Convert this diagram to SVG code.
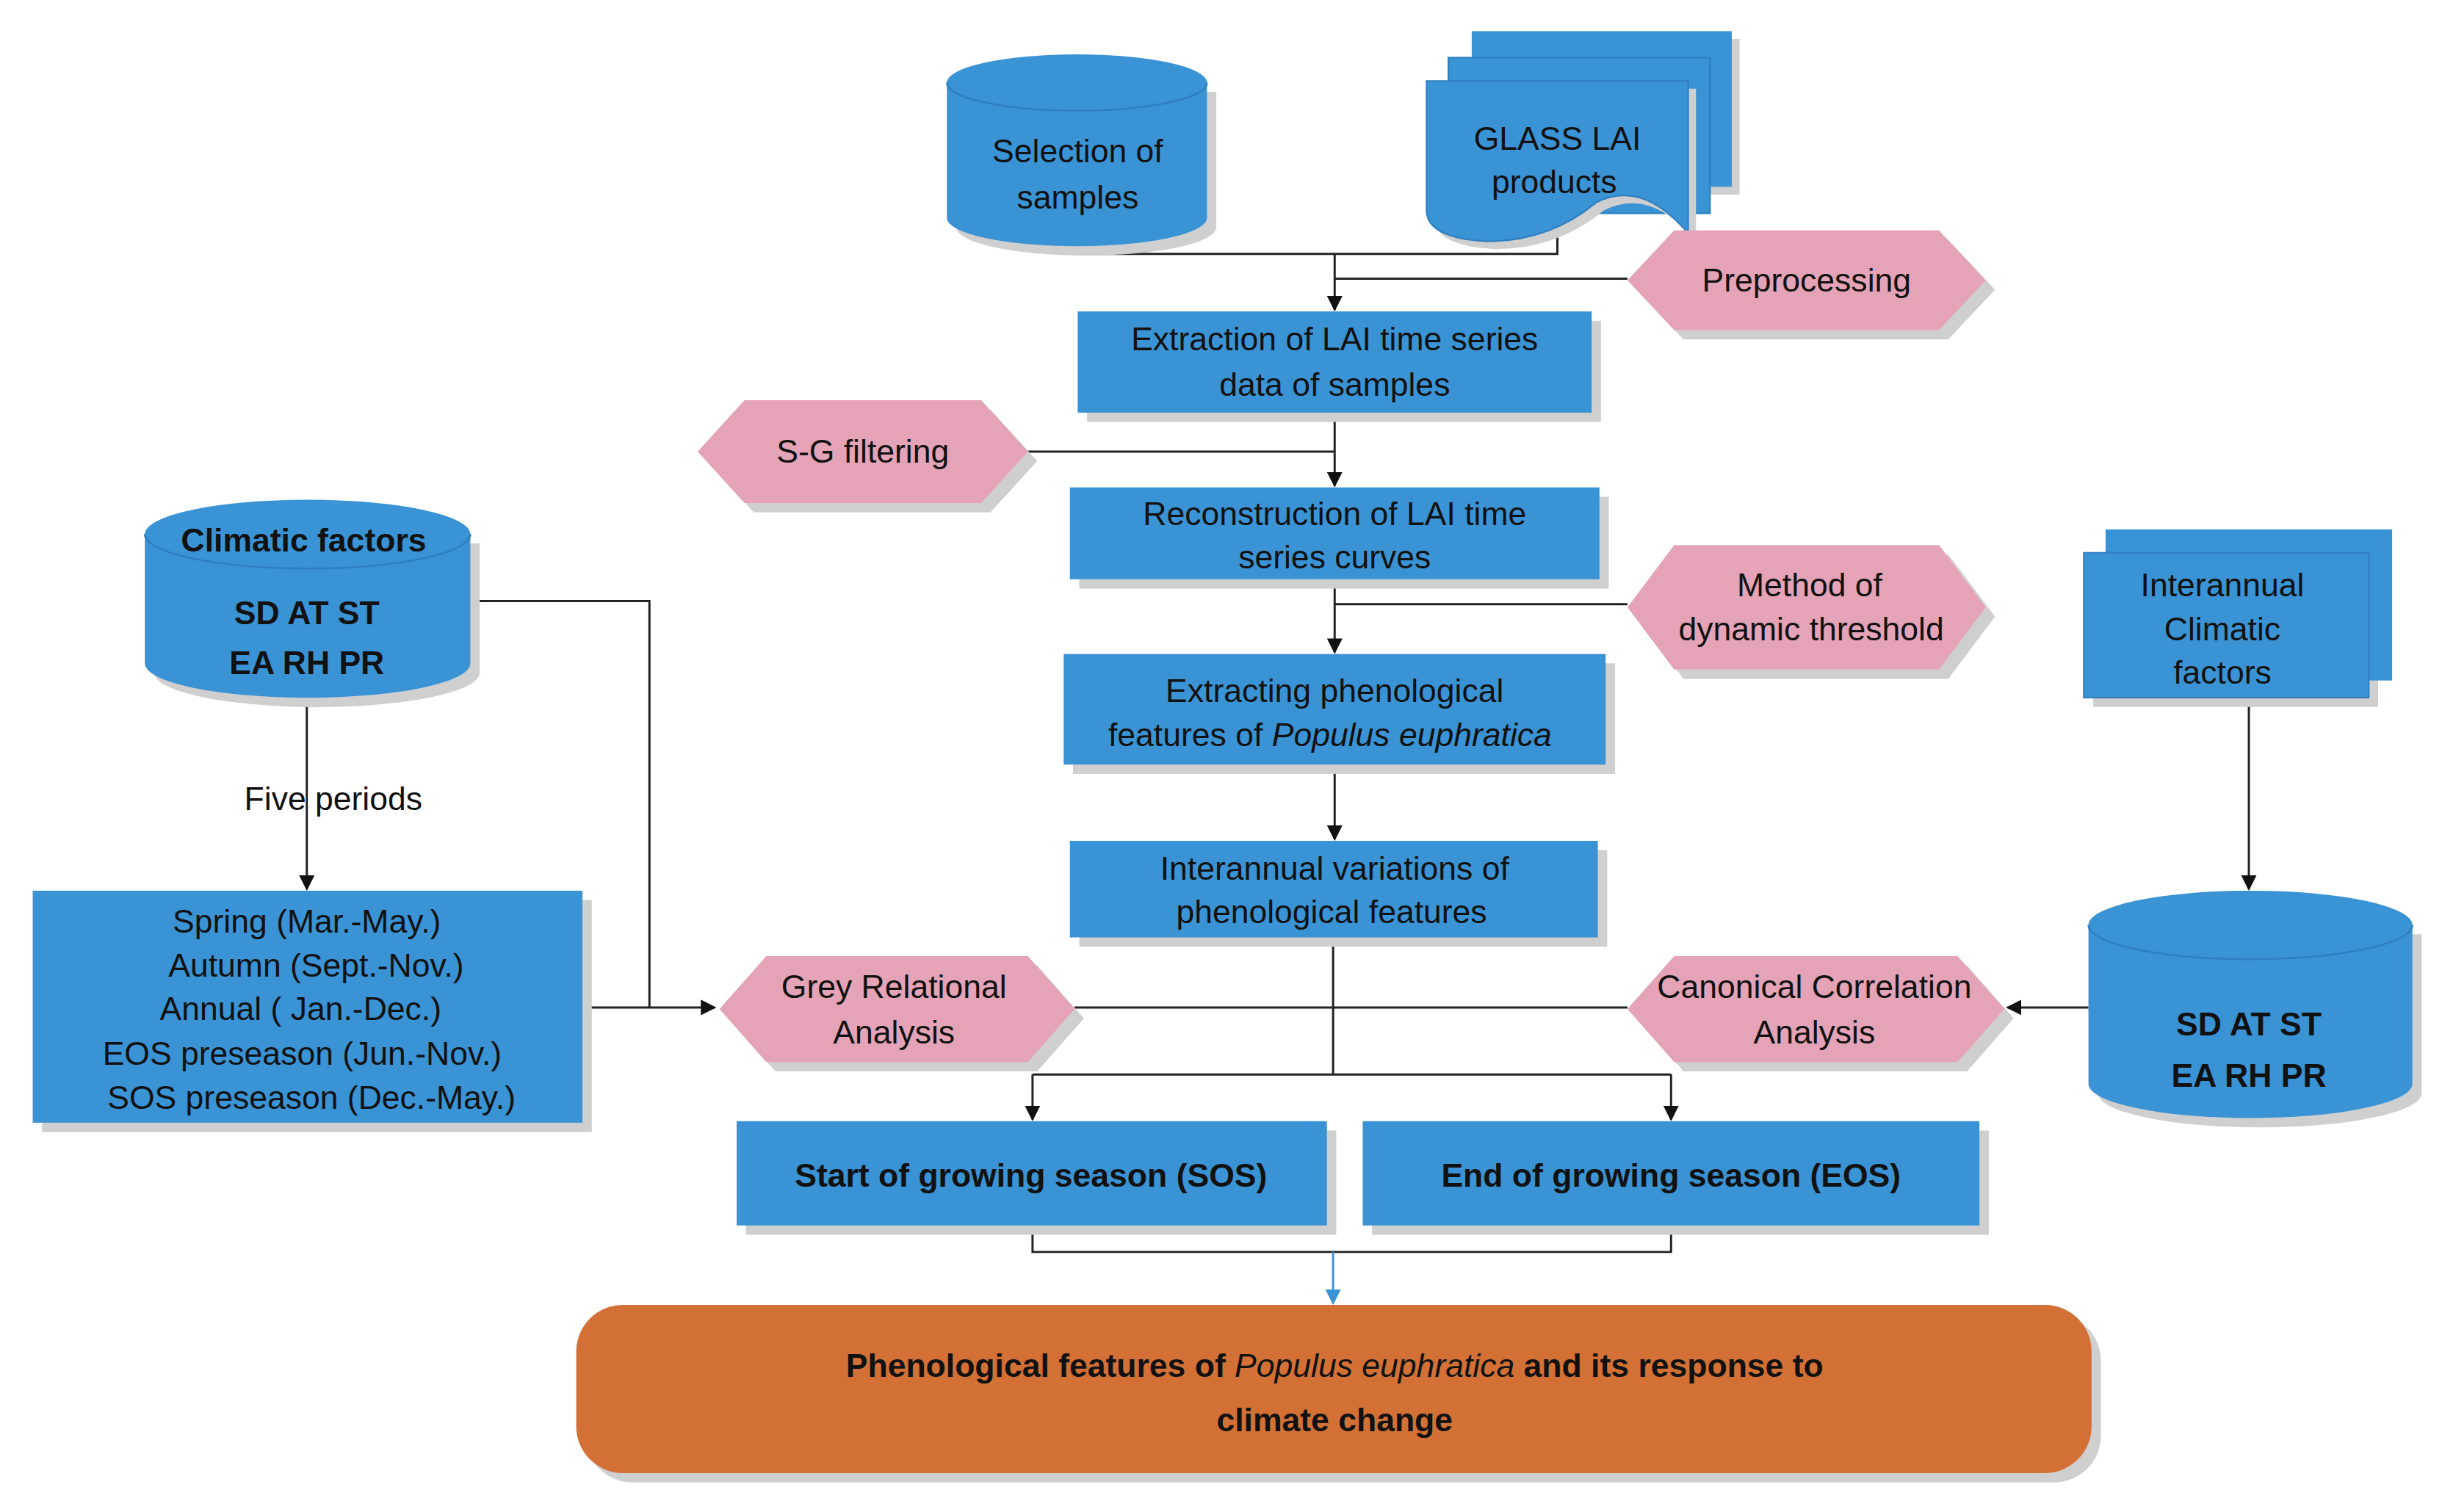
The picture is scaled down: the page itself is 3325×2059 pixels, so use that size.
<svg xmlns="http://www.w3.org/2000/svg" width="3325" height="2059" viewBox="0 0 3325 2059">
<style>
.b{fill:#3A93D4}
.p{fill:#E4A3B6}
.s{fill:#cfcfcf}
.t{font-family:"Liberation Sans",Arial,sans-serif;font-size:21px;fill:#111;text-anchor:middle}
.bd{font-weight:bold}
.c{fill:none;stroke:#222;stroke-width:1.4}
</style>
<defs>
<marker id="a" markerWidth="10" markerHeight="10" refX="9" refY="5" orient="auto" markerUnits="userSpaceOnUse"><path d="M0,0 L10,5 L0,10 z" fill="#111"/></marker>
<marker id="ab" markerWidth="10" markerHeight="10" refX="9" refY="5" orient="auto" markerUnits="userSpaceOnUse"><path d="M0,0 L10,5 L0,10 z" fill="#3A93D4"/></marker>
</defs>
<rect width="3325" height="2059" fill="#fff"/>
<g transform="scale(2.1205)">
<g id="connectors">
<path class="c" d="M692,150 V163 H1000 V143"/>
<path class="c" d="M857,163 V199" marker-end="url(#a)"/>
<path class="c" d="M857,179 H1045"/>
<path class="c" d="M857,265 V312" marker-end="url(#a)"/>
<path class="c" d="M660,290 H857"/>
<path class="c" d="M857,372 V419" marker-end="url(#a)"/>
<path class="c" d="M857,388 H1045"/>
<path class="c" d="M857,491 V539" marker-end="url(#a)"/>
<path class="c" d="M856,602 V690"/>
<path class="c" d="M663,690 H1073"/>
<path class="c" d="M663,690 V719" marker-end="url(#a)"/>
<path class="c" d="M1073,690 V719" marker-end="url(#a)"/>
<path class="c" d="M690,647 H1045"/>
<path class="c" d="M374,647 H459" marker-end="url(#a)"/>
<path class="c" d="M302,386 H417 V647"/>
<path class="c" d="M197,447 V571" marker-end="url(#a)"/>
<path class="c" d="M1444,448 V571" marker-end="url(#a)"/>
<path class="c" d="M1341,647 H1289" marker-end="url(#a)"/>
<path class="c" d="M663,787 V804 H1073 V787"/>
<path d="M856,804 V837" fill="none" stroke="#3A93D4" stroke-width="1.4" marker-end="url(#ab)"/>
<text class="t" x="214" y="520">Five periods</text>
</g>
<g id="selection">
<path class="s" d="M614,59 V146 A83,18 0 0 0 781,146 V59 z"/>
<path class="b" d="M608,53 V140 A83,18 0 0 0 775,140 V53 A83,18 0 0 0 608,53 z"/>
<path d="M608,53 A83,18 0 0 0 775,53" fill="none" stroke="#2f7fc0" stroke-width="1.2"/>
<text class="t" x="692" y="104" font-size="24">Selection of</text>
<text class="t" x="692" y="134" font-size="24">samples</text>
</g>
<g id="glass">
<rect class="s" x="950" y="25" width="167" height="100"/>
<rect class="b" x="945" y="20" width="167" height="100"/>
<rect class="b" x="930" y="37" width="168" height="100" stroke="#2f7fc0"/>
<path class="s" d="M921,57 H1089 V155 Q1060,120 1030,135 Q1000,160 960,160 Q921,158 921,140 z"/>
<path class="b" d="M916,52 H1084 V150 Q1055,115 1025,130 Q995,155 955,155 Q916,153 916,135 z" stroke="#2f7fc0"/>
<text class="t" x="1000" y="96">GLASS LAI</text>
<text class="t" x="998" y="124">products</text>
</g>
<g id="preprocessing">
<polygon class="s" points="1051,186 1081,154 1251,154 1281,186 1251,218 1081,218"/>
<polygon class="p" points="1045,180 1075,148 1245,148 1275,180 1245,212 1075,212"/>
<text class="t" x="1160" y="187">Preprocessing</text>
</g>
<g id="extraction">
<rect class="s" x="698" y="206" width="330" height="65"/>
<rect class="b" x="692" y="200" width="330" height="65"/>
<text class="t" x="857" y="225">Extraction  of LAI time  series</text>
<text class="t" x="857" y="254">data  of samples</text>
</g>
<g id="sg">
<polygon class="s" points="454,296 484,263 636,263 666,296 636,329 484,329"/>
<polygon class="p" points="448,290 478,257 630,257 660,290 630,323 478,323"/>
<text class="t" x="554" y="297">S-G filtering</text>
</g>
<g id="reconstruction">
<rect class="s" x="693" y="319" width="340" height="59"/>
<rect class="b" x="687" y="313" width="340" height="59"/>
<text class="t" x="857" y="337">Reconstruction  of  LAI time</text>
<text class="t" x="857" y="365">series  curves</text>
</g>
<g id="method">
<polygon class="s" points="1051,396 1081,356 1251,356 1281,396 1251,436 1081,436"/>
<polygon class="p" points="1045,390 1075,350 1245,350 1275,390 1245,430 1075,430"/>
<text class="t" x="1162" y="383">Method of</text>
<text class="t" x="1163" y="411">dynamic threshold</text>
</g>
<g id="extracting">
<rect class="s" x="689" y="426" width="348" height="71"/>
<rect class="b" x="683" y="420" width="348" height="71"/>
<text class="t" x="857" y="451">Extracting phenological</text>
<text class="t" x="854" y="479">features of <tspan font-style="italic">Populus euphratica</tspan></text>
</g>
<g id="interannual-variations">
<rect class="s" x="693" y="546" width="339" height="62"/>
<rect class="b" x="687" y="540" width="339" height="62"/>
<text class="t" x="857" y="565">Interannual variations of</text>
<text class="t" x="855" y="593">phenological features</text>
</g>
<g id="grey">
<polygon class="s" points="468,654 498,620 666,620 696,654 666,688 498,688"/>
<polygon class="p" points="462,648 492,614 660,614 690,648 660,682 492,682"/>
<text class="t" x="574" y="641">Grey Relational</text>
<text class="t" x="574" y="670">Analysis</text>
</g>
<g id="canonical">
<polygon class="s" points="1051,654 1081,620 1263,620 1293,654 1263,688 1081,688"/>
<polygon class="p" points="1045,648 1075,614 1257,614 1287,648 1257,682 1075,682"/>
<text class="t" x="1165" y="641">Canonical Correlation</text>
<text class="t" x="1165" y="670">Analysis</text>
</g>
<g id="climatic">
<path class="s" d="M99,349 V432 A104,22 0 0 0 308,432 V349 z"/>
<path class="b" d="M93,343 V426 A104,22 0 0 0 302,426 V343 A104,22 0 0 0 93,343 z"/>
<path d="M93,343 A104,22 0 0 0 302,343" fill="none" stroke="#2f7fc0" stroke-width="1.2"/>
<text class="t bd" x="195" y="354" font-size="24">Climatic factors</text>
<text class="t bd" x="197" y="401" font-size="24">SD   AT   ST</text>
<text class="t bd" x="197" y="433" font-size="24">EA  RH   PR</text>
</g>
<g id="periods">
<rect class="s" x="27" y="578" width="353" height="149"/>
<rect class="b" x="21" y="572" width="353" height="149"/>
<text class="t" x="197" y="599">Spring (Mar.-May.)</text>
<text class="t" x="203" y="627">Autumn (Sept.-Nov.)</text>
<text class="t" x="193" y="655">Annual ( Jan.-Dec.)</text>
<text class="t" x="194" y="684">EOS preseason (Jun.-Nov.)</text>
<text class="t" x="200" y="712">SOS preseason (Dec.-May.)</text>
</g>
<g id="interannual-climatic">
<rect class="s" x="1344" y="361" width="183" height="93"/>
<rect class="b" x="1352" y="340" width="184" height="97"/>
<rect class="b" x="1338" y="355" width="183" height="93" stroke="#2f7fc0"/>
<text class="t" x="1427" y="383">Interannual</text>
<text class="t" x="1427" y="411">Climatic</text>
<text class="t" x="1427" y="439">factors</text>
</g>
<g id="climatic-right">
<path class="s" d="M1347,600 V702 A104,22 0 0 0 1555,702 V600 z"/>
<path class="b" d="M1341,594 V696 A104,22 0 0 0 1549,696 V594 A104,22 0 0 0 1341,594 z"/>
<path d="M1341,594 A104,22 0 0 0 1549,594" fill="none" stroke="#2f7fc0" stroke-width="1.2"/>
<text class="t bd" x="1444" y="665" font-size="24">SD   AT   ST</text>
<text class="t bd" x="1444" y="698" font-size="24">EA  RH   PR</text>
</g>
<g id="sos">
<rect class="s" x="479" y="726" width="379" height="67"/>
<rect class="b" x="473" y="720" width="379" height="67"/>
<text class="t bd" x="662" y="762">Start of growing season (SOS)</text>
</g>
<g id="eos">
<rect class="s" x="881" y="726" width="396" height="67"/>
<rect class="b" x="875" y="720" width="396" height="67"/>
<text class="t bd" x="1073" y="762">End of growing season (EOS)</text>
</g>
<g id="result">
<rect class="s" x="376" y="844" width="973" height="108" rx="30"/>
<rect x="370" y="838" width="973" height="108" rx="30" fill="#D27035"/>
<text class="t bd" x="857" y="884" font-size="26">Phenological features of <tspan font-style="italic" font-weight="normal">Populus euphratica</tspan>  and its response to</text>
<text class="t bd" x="857" y="919" font-size="26">climate change</text>
</g>
</g>
</svg>
